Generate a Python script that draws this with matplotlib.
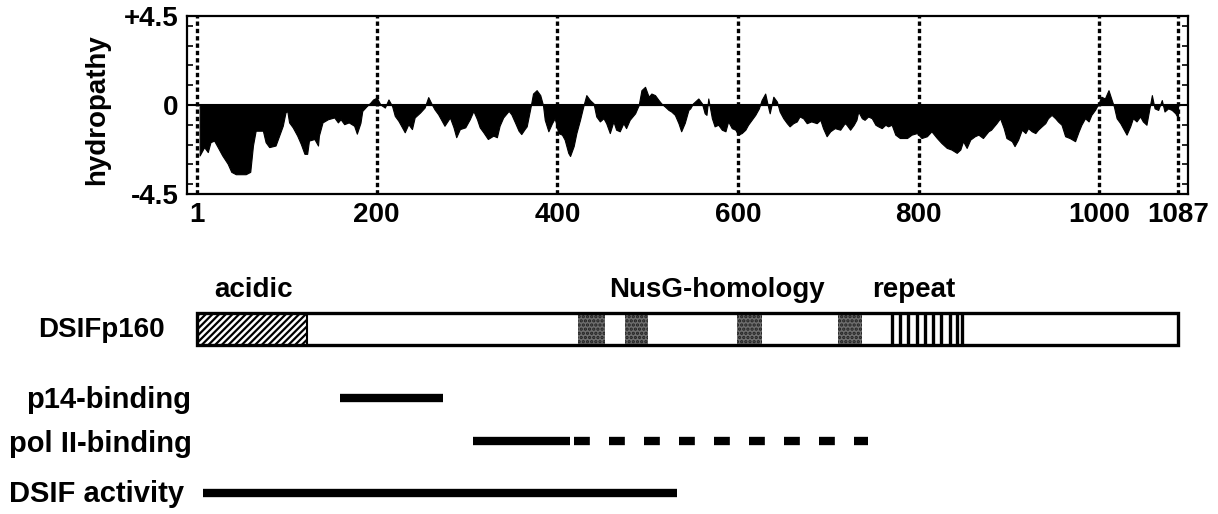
import matplotlib.pyplot as plt
from matplotlib.patches import Rectangle

plt.rcParams['font.family'] = ['Liberation Sans', 'DejaVu Sans']
plt.rcParams['font.weight'] = 'bold'
plt.rcParams['hatch.linewidth'] = 1.6

# hydropathy profile of DSIFp160 (residue, value)
hp_res = [4, 9, 13, 16, 20, 24, 29, 35, 39, 44, 50, 55, 60, 63, 66, 74, 77, 81, 88, 92,
          96, 99, 101, 103, 107, 112, 116, 120, 123, 125, 131, 135, 136, 140, 146, 153, 157, 160, 164, 169,
          175, 178, 182, 184, 189, 193, 196, 200, 204, 209, 213, 217, 220, 224, 228, 231, 235, 239, 242, 248,
          253, 257, 261, 264, 268, 272, 275, 281, 285, 288, 292, 298, 303, 307, 311, 314, 318, 323, 329, 333,
          336, 340, 346, 349, 353, 357, 360, 364, 366, 370, 373, 377, 381, 384, 386, 390, 394, 397, 401, 405,
          408, 412, 414, 418, 421, 425, 429, 432, 436, 440, 443, 447, 451, 454, 458, 462, 465, 469, 473, 476,
          480, 486, 490, 493, 497, 501, 504, 508, 512, 515, 519, 523, 526, 530, 534, 537, 541, 545, 547, 550,
          556, 560, 563, 565, 567, 571, 574, 578, 582, 586, 589, 593, 597, 600, 604, 608, 611, 615, 619, 623,
          626, 630, 634, 635, 639, 643, 646, 650, 654, 657, 661, 665, 668, 672, 676, 681, 687, 691, 694, 698,
          702, 707, 713, 718, 720, 724, 728, 731, 733, 737, 740, 744, 748, 752, 755, 759, 763, 766, 770, 774,
          779, 787, 792, 798, 803, 809, 814, 820, 825, 831, 836, 842, 846, 849, 853, 857, 862, 866, 871, 877,
          880, 886, 890, 894, 897, 903, 906, 910, 914, 918, 921, 925, 929, 932, 936, 940, 943, 947, 951, 954,
          958, 962, 967, 973, 977, 980, 984, 988, 991, 995, 999, 1002, 1006, 1010, 1013, 1016, 1019, 1023, 1026, 1030,
          1034, 1037, 1041, 1045, 1048, 1052, 1056, 1058, 1061, 1065, 1069, 1072, 1076, 1080, 1084, 1087]
hp_val = [-2.55, -2.13, -2.38, -1.88, -1.8, -2.13, -2.55, -2.97, -3.38, -3.5, -3.5, -3.5, -3.38, -2.05, -1.3, -1.3, -1.88, -2.13, -2.05, -1.55,
          -1.05, -0.38, -0.3, -0.88, -1.13, -1.55, -1.97, -2.47, -2.47, -1.8, -1.72, -2.05, -1.55, -0.88, -0.72, -0.63, -0.88, -0.72, -0.97, -0.88,
          -1.05, -1.45, -0.9, -0.3, -0.05, 0.12, 0.28, 0.37, 0.03, -0.13, 0.28, -0.05, -0.55, -0.8, -1.13, -1.38, -0.97, -1.22, -0.63, -0.38,
          -0.13, 0.4, 0.03, -0.22, -0.47, -0.8, -1.05, -0.63, -1.13, -1.63, -1.22, -1.13, -0.72, -0.3, -0.72, -1.13, -1.38, -1.72, -1.55, -1.63,
          -1.05, -0.63, -0.3, -0.47, -0.88, -1.3, -1.47, -1.2, -1.08, -0.17, 0.58, 0.75, 0.5, 0.0, -0.75, -1.33, -0.92, -0.67, -1.42, -1.5,
          -1.75, -2.42, -2.58, -2.08, -1.42, -0.75, 0.0, 0.5, 0.25, 0.08, -0.58, -0.83, -0.67, -0.92, -1.42, -0.83, -1.25, -1.33, -0.92, -1.17,
          -0.75, -0.42, 0.0, 0.75, 0.92, 0.42, 0.58, 0.5, 0.25, 0.08, -0.08, -0.25, -0.33, -0.5, -0.92, -1.33, -0.9, -0.25, -0.17, 0.08,
          0.33, 0.08, -0.42, -0.5, 0.33, -0.67, -1.08, -1.0, -1.25, -1.33, -0.83, -1.17, -1.25, -1.5, -1.42, -1.25, -1.0, -0.75, -0.5, -0.17,
          0.25, 0.58, -0.25, -0.42, 0.42, 0.17, -0.33, -0.67, -0.92, -1.08, -0.92, -0.83, -0.58, -0.67, -0.92, -0.83, -0.92, -0.75, -1.17, -1.58,
          -1.33, -1.17, -1.25, -0.92, -1.0, -1.25, -1.0, -0.75, -0.33, -0.67, -0.75, -0.58, -0.67, -1.0, -1.08, -1.17, -1.0, -1.08, -1.0, -1.5,
          -1.67, -1.67, -1.5, -1.42, -1.67, -1.58, -1.33, -1.67, -1.92, -2.17, -2.25, -2.42, -2.25, -1.83, -2.17, -1.75, -1.58, -1.5, -1.67, -1.33,
          -1.25, -0.92, -0.67, -1.17, -1.67, -1.83, -2.08, -1.75, -1.25, -1.42, -1.17, -1.33, -1.42, -1.25, -1.08, -0.92, -0.67, -0.5, -0.67, -0.83,
          -1.0, -1.58, -1.67, -1.83, -1.33, -1.0, -0.67, -0.83, -0.5, -0.25, 0.08, 0.42, 0.33, 0.75, 0.33, -0.08, -0.67, -0.92, -1.17, -1.5,
          -1.08, -0.67, -0.83, -0.58, -0.83, -1.0, 0.0, 0.5, -0.17, -0.25, 0.25, -0.33, -0.17, -0.25, -0.42, -0.67]

tick_pos = [1, 200, 400, 600, 800, 1000, 1087]

# domain map (residue ranges)
protein_len = 1087
acidic = (1, 123)
nusg_boxes = [(423, 453), (475, 500), (599, 626), (711, 737)]
repeat_lines = [770, 779, 788, 798, 807, 816, 825, 835, 842, 848]

p14_binding = (159, 273)
pol2_solid = (307, 414)
pol2_dashed = (418, 744)
dsif_activity = (8, 532)

W, H = 1218, 514
fig = plt.figure(figsize=(W / 100, H / 100), dpi=100)


def fx(px):
    return px / W


def fy(py):
    return 1 - py / H


fs = 20
fs_lab = 21

# --- hydropathy plot ---
ax = fig.add_axes([fx(187), fy(194), (1188 - 187) / W, (194 - 16) / H])
ax.set_xlim(-10, 1098)
ax.set_ylim(-4.5, 4.5)
ax.fill_between(hp_res, hp_val, 0, color='black', lw=0.8)
ax.axhline(0, color='black', lw=1.5)
ax.vlines(tick_pos, -4.5, 4.5, colors='black', lw=2.4, linestyles=(0, (1.3, 0.9)))
for s in ax.spines.values():
    s.set_linewidth(1.6)
ax.set_xticks(tick_pos, [str(t) for t in tick_pos])
ax.set_yticks([-4.5, 0, 4.5], ['-4.5', '0', '+4.5'])
ax.tick_params(which='major', length=0, labelsize=fs, pad=6)
ax.set_yticks(range(-4, 5), minor=True)
ax.tick_params(which='minor', direction='in', length=4, width=1.2, left=True, right=True)
fig.text(fx(97), fy(110), 'hydropathy', rotation=90, ha='center', va='center', fontsize=fs)

# --- domain map and binding regions ---
ax2 = fig.add_axes([fx(187), 0, (1188 - 187) / W, fy(250)])
ax2.set_xlim(-10, 1098)
ax2.set_ylim(514, 250)
ax2.axis('off')

bar_top, bar_h = 313, 32
ax2.add_patch(Rectangle((acidic[0], bar_top), acidic[1] - acidic[0], bar_h,
                        facecolor='white', edgecolor='black', hatch='/////', lw=0))
for a, b in nusg_boxes:
    ax2.add_patch(Rectangle((a, bar_top), b - a, bar_h, facecolor='#6e6e6e',
                            edgecolor='#202020', hatch='....', lw=0))
ax2.vlines(repeat_lines, bar_top, bar_top + bar_h, colors='black', lw=2.4)
ax2.vlines(acidic[1], bar_top, bar_top + bar_h, colors='black', lw=1.5)
ax2.add_patch(Rectangle((1, bar_top), protein_len - 1, bar_h, fill=False,
                        edgecolor='black', lw=2.4, zorder=5))

lw_bind = 6
ax2.plot(p14_binding, [398, 398], color='black', lw=lw_bind, solid_capstyle='butt')
ax2.plot(pol2_solid, [441, 441], color='black', lw=lw_bind, solid_capstyle='butt')
ax2.plot(pol2_dashed, [441, 441], color='black', lw=lw_bind, linestyle=(0, (1.9, 2.3)),
         dash_capstyle='butt')
ax2.plot(dsif_activity, [493, 493], color='black', lw=lw_bind, solid_capstyle='butt')

fig.text(fx(214), fy(290), 'acidic', ha='left', va='center', fontsize=fs)
fig.text(fx(609), fy(290), 'NusG-homology', ha='left', va='center', fontsize=fs)
fig.text(fx(872), fy(290), 'repeat', ha='left', va='center', fontsize=fs)
fig.text(fx(38), fy(330), 'DSIFp160', ha='left', va='center', fontsize=fs)
fig.text(fx(26), fy(400), 'p14-binding', ha='left', va='center', fontsize=fs_lab)
fig.text(fx(9), fy(444), 'pol II-binding', ha='left', va='center', fontsize=fs_lab)
fig.text(fx(9), fy(494), 'DSIF activity', ha='left', va='center', fontsize=fs_lab)

fig.savefig('out.png', dpi=100)
